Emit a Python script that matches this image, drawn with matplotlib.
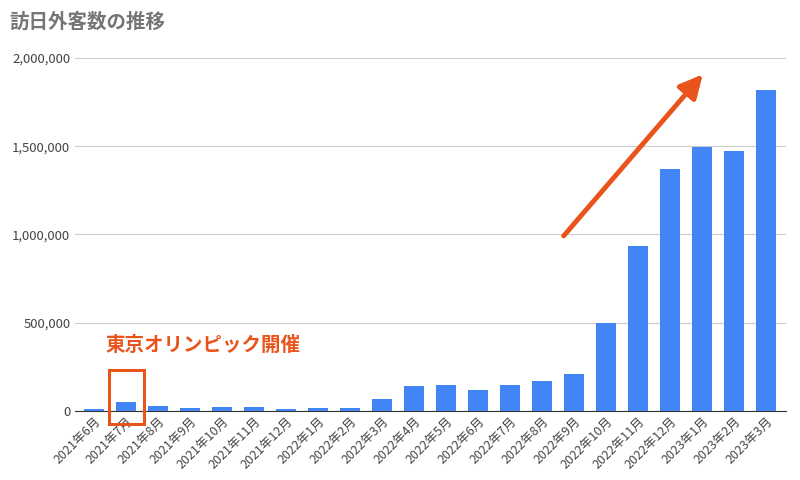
import matplotlib.pyplot as plt
from matplotlib.patches import Rectangle
from matplotlib.ticker import FuncFormatter

plt.rcParams['font.family'] = 'Noto Sans CJK JP'

months = ['2021年6月', '2021年7月', '2021年8月', '2021年9月', '2021年10月', '2021年11月',
          '2021年12月', '2022年1月', '2022年2月', '2022年3月', '2022年4月', '2022年5月',
          '2022年6月', '2022年7月', '2022年8月', '2022年9月', '2022年10月', '2022年11月',
          '2022年12月', '2023年1月', '2023年2月', '2023年3月']
visitors = [10000, 51000, 25000, 18000, 21000, 21000, 12000, 17000, 16000, 66000,
            139000, 147000, 120000, 144000, 169000, 207000, 499000, 935000,
            1370000, 1497000, 1475000, 1817000]

fig = plt.figure(figsize=(8, 4.8), dpi=100)
ax = fig.add_axes([0.094, 0.144, 0.888, 0.735])

x = range(len(months))
ax.bar(x, visitors, width=0.62, color='#4285f4', zorder=3)

ax.set_ylim(0, 2000000)
ax.set_xlim(-0.6, len(months) - 0.4)
ax.set_yticks([0, 500000, 1000000, 1500000, 2000000])
ax.yaxis.set_major_formatter(FuncFormatter(lambda v, p: f'{int(v):,}'))
ax.grid(axis='y', color='#cccccc', linewidth=0.8, zorder=0)
ax.set_xticks(list(x))
ax.set_xticklabels(months, rotation=45, ha='right', rotation_mode='anchor', fontsize=9, color='#444444')
ax.tick_params(axis='y', labelsize=9.5, colors='#444444', length=0)
ax.tick_params(axis='x', length=0, pad=3)
for s in ['top', 'right', 'left']:
    ax.spines[s].set_visible(False)
ax.spines['bottom'].set_color('#333333')

fig.text(0.012, 0.955, '訪日外客数の推移', fontsize=14, fontweight='bold', color='#757575', va='center')

# 東京オリンピック annotation
ax.add_patch(Rectangle((0.45, -75000), 1.1, 305000, fill=False, edgecolor='#e8541c',
                       linewidth=2.2, clip_on=False, zorder=5))
ax.text(0.35, 370000, '東京オリンピック開催', color='#e8541c', fontsize=14,
        fontweight='bold', va='center', ha='left')

ax.annotate('', xy=(0.886, 0.96), xytext=(0.685, 0.49), xycoords='axes fraction',
            arrowprops=dict(arrowstyle='-|>,head_length=1.4,head_width=0.7',
                            color='#e8541c', lw=3.5))

fig.savefig('out.png')
